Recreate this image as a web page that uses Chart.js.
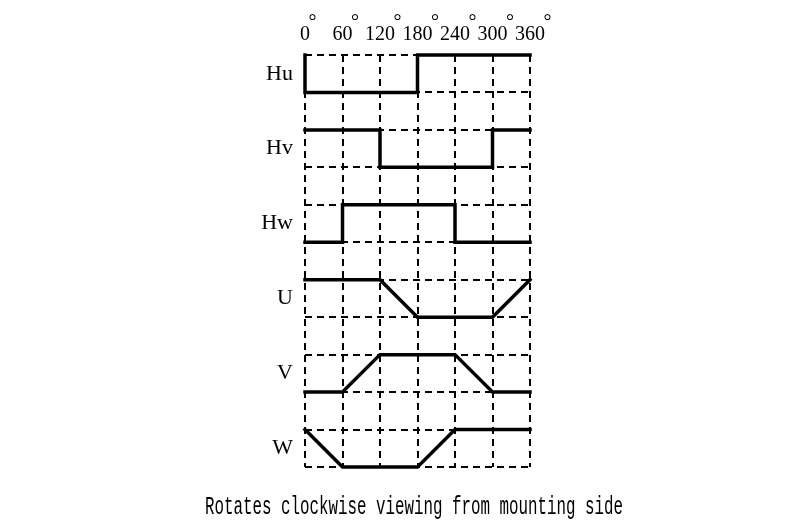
<!DOCTYPE html>
<html>
<head>
<meta charset="utf-8">
<script src="https://cdn.jsdelivr.net/npm/chart.js@4.4.1/dist/chart.umd.min.js"></script>
<style>
  body { margin: 0; background: #fff; }
  #wrap { width: 800px; height: 532px; }
</style>
</head>
<body>
<div id="wrap"><canvas id="timing"></canvas></div>
<script>
// signal names, top to bottom
const signals = ['Hu', 'Hv', 'Hw', 'U', 'V', 'W'];
const angleTicks = [0, 60, 120, 180, 240, 300, 360];

// each signal: angles (deg) and level (0 = low, 1 = high)
const huAngles = [0, 0, 180, 180, 360];
const huLevels = [1, 0, 0, 1, 1];
const hvAngles = [0, 120, 120, 300, 300, 360];
const hvLevels = [1, 1, 0, 0, 1, 1];
const hwAngles = [0, 60, 60, 240, 240, 360];
const hwLevels = [0, 0, 1, 1, 0, 0];
const uAngles = [0, 120, 180, 300, 360];
const uLevels = [1, 1, 0, 0, 1];
const vAngles = [0, 60, 120, 240, 300, 360];
const vLevels = [0, 0, 1, 1, 0, 0];
const wAngles = [0, 60, 180, 240, 360];
const wLevels = [1, 0, 0, 1, 1];

const title = 'Rotates clockwise viewing from mounting side';

const series = [
    [huAngles, huLevels],
    [hvAngles, hvLevels],
    [hwAngles, hwLevels],
    [uAngles, uLevels],
    [vAngles, vLevels],
    [wAngles, wLevels]
];

const rows = signals.length;
const yMax = rows * 2 - 1;

// row i sits between yMax - 2i - 1 (low) and yMax - 2i (high)
const datasets = series.map(([angles, levels], i) => ({
    label: signals[i],
    data: angles.map((a, k) => ({ x: a, y: yMax - 2 * i - 1 + levels[k] })),
    borderColor: '#000',
    borderWidth: 3.5,
    borderJoinStyle: 'miter',
    borderCapStyle: 'square',
    pointRadius: 0,
    tension: 0,
    clip: false
}));

const dash = [7, 5];

// label only the middle of each signal row
function rowLabel(v) {
    const k = (yMax - 0.5 - v) / 2;
    return Number.isInteger(k) ? signals[k] : '';
}

new Chart(document.getElementById('timing'), {
    type: 'line',
    data: { datasets },
    options: {
        responsive: true,
        maintainAspectRatio: false,
        animation: false,
        layout: { padding: { left: 205, right: 177, top: 0, bottom: 0 } },
        plugins: {
            legend: { display: false },
            tooltip: { enabled: false },
            title: {
                display: true,
                text: title,
                position: 'bottom',
                color: '#000',
                font: { family: 'Liberation Mono', size: 26, weight: 'normal', lineHeight: 1 },
                padding: { top: 27, bottom: 12 }
            }
        },
        scales: {
            x: {
                type: 'linear',
                position: 'top',
                min: 0,
                max: 360,
                afterBuildTicks: axis => { axis.ticks = angleTicks.map(v => ({ value: v })); },
                afterFit: axis => { axis.height = 55; },
                ticks: {
                    autoSkip: false,
                    maxRotation: 0,
                    padding: 14,
                    color: '#000',
                    font: { family: 'Liberation Serif', size: 20, lineHeight: 0.6 },
                    callback: v => [' '.repeat(String(v).length * 2 + 1) + '°', String(v)]
                },
                grid: { color: '#000', lineWidth: 2, drawTicks: false },
                border: { display: false, dash: dash }
            },
            y: {
                type: 'linear',
                min: 0,
                max: yMax,
                afterBuildTicks: axis => {
                    const t = [];
                    for (let v = 0; v <= yMax; v += 0.5) t.push({ value: v });
                    axis.ticks = t;
                },
                afterFit: axis => { axis.width = 100; },
                ticks: {
                    autoSkip: false,
                    padding: 12,
                    color: '#000',
                    font: { family: 'Liberation Serif', size: 22 },
                    callback: rowLabel
                },
                grid: {
                    color: ctx => (ctx.tick && ctx.tick.value % 1 ? 'rgba(0,0,0,0)' : '#000'),
                    lineWidth: 2,
                    drawTicks: false
                },
                border: { display: false, dash: dash }
            },
            // empty right-hand axis, only reserves the blank margin
            yRight: {
                type: 'linear',
                position: 'right',
                min: 0,
                max: yMax,
                afterFit: axis => { axis.width = 93; },
                ticks: { display: false },
                grid: { display: false },
                border: { display: false }
            }
        }
    }
});
</script>
</body>
</html>
